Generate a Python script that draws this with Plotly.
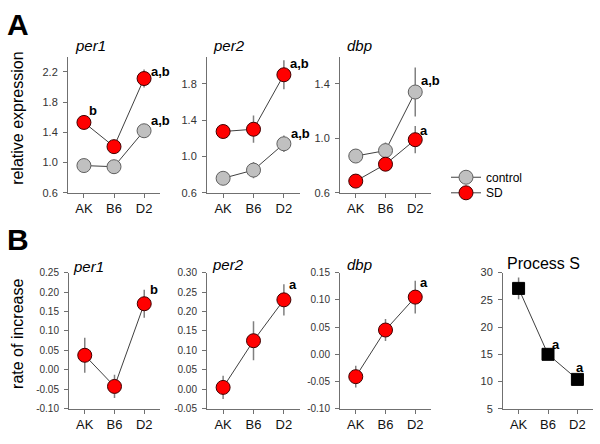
import plotly.graph_objects as go

strains = ["AK", "B6", "D2"]

# A: relative expression (control vs SD)
per1_ctrl = [0.96, 0.945, 1.42]
per1_ctrl_err = [0.03, 0.09, 0.04]
per1_sd = [1.53, 1.21, 2.11]
per1_sd_err = [0.09, 0.08, 0.12]

per2_ctrl = [0.76, 0.85, 1.14]
per2_ctrl_err = [0.03, 0.09, 0.09]
per2_sd = [1.275, 1.30, 1.90]
per2_sd_err = [0.03, 0.15, 0.16]

dbp_ctrl = [0.87, 0.91, 1.34]
dbp_ctrl_err = [0.05, 0.06, 0.18]
dbp_sd = [0.686, 0.81, 0.99]
dbp_sd_err = [0.04, 0.04, 0.10]

# B: rate of increase + Process S
rate_per1 = [0.0375, -0.0425, 0.17]
rate_per1_err = [0.045, 0.03, 0.036]
rate_per2 = [0.005, 0.125, 0.23]
rate_per2_err = [0.03, 0.05, 0.04]
rate_dbp = [-0.041, 0.0446, 0.105]
rate_dbp_err = [0.02, 0.02, 0.03]
process_s = [27.1, 15.0, 10.4]
process_s_err = [2.0, 1.0, 0.5]

FONT = "Arial, Liberation Sans, sans-serif"
W, H = 600, 444

RED = dict(color="#ff0000", size=14, line=dict(color="#400000", width=1))
GREY = dict(color="#c0c0c0", size=14, line=dict(color="#606060", width=1))
SQUARE = dict(color="#000000", size=12, symbol="square", line=dict(color="#000000", width=1))
LINE = dict(color="#404040", width=1)


def err(arr):
    return dict(type="data", array=arr, color="#808080", thickness=1.5, width=0)


def px_x(a, b):
    return [a / W, b / W]


def px_y(top, bottom):
    return [1 - bottom / H, 1 - top / H]


fig = go.Figure()


def add(n, y, e, marker, name=None, legend=None):
    ax = "" if n == 1 else str(n)
    fig.add_trace(go.Scatter(
        x=strains, y=y, error_y=err(e), mode="lines+markers",
        marker=marker, line=LINE, name=name,
        showlegend=legend is not None, legend=legend or "legend",
        xaxis="x" + ax, yaxis="y" + ax,
    ))


add(1, per1_ctrl, per1_ctrl_err, GREY, "control", "legend")
add(1, per1_sd, per1_sd_err, RED, "SD", "legend2")
add(2, per2_ctrl, per2_ctrl_err, GREY, "control")
add(2, per2_sd, per2_sd_err, RED, "SD")
add(3, dbp_ctrl, dbp_ctrl_err, GREY, "control")
add(3, dbp_sd, dbp_sd_err, RED, "SD")
add(4, rate_per1, rate_per1_err, RED)
add(5, rate_per2, rate_per2_err, RED)
add(6, rate_dbp, rate_dbp_err, RED)
add(7, process_s, process_s_err, SQUARE)

axis_style = dict(
    showline=True, linecolor="#707070", linewidth=1, showgrid=False,
    zeroline=False, ticks="outside", ticklen=4, tickcolor="#707070",
    mirror=False,
)

panels = [
    # (x px range, y px range, y range, tickvals, fmt, tick font size)
    ((68, 160), (52, 192), [0.6, 2.4], [0.6, 1.0, 1.4, 1.8, 2.2], "{:.1f}", 11),
    ((207, 300), (52, 192), [0.6, 2.1], [0.6, 1.0, 1.4, 1.8], "{:.1f}", 11),
    ((340, 431), (52, 192), [0.6, 1.6], [0.6, 1.0, 1.4], "{:.1f}", 11),
    ((69, 160), (274, 414), [-0.10, 0.25], [-0.10, -0.05, 0, 0.05, 0.10, 0.15, 0.20, 0.25], "{:.2f}", 10),
    ((207, 300), (274, 414), [-0.05, 0.30], [-0.05, 0, 0.05, 0.10, 0.15, 0.20, 0.25, 0.30], "{:.2f}", 10),
    ((340, 431), (274, 414), [-0.10, 0.15], [-0.10, -0.05, 0, 0.05, 0.10, 0.15], "{:.2f}", 10),
    ((503, 593), (274, 414), [5, 30], [5, 10, 15, 20, 25, 30], "{:.0f}", 11),
]

layout = {}
for i, (xr, yr, rng, tv, fmt, fs) in enumerate(panels, start=1):
    s = "" if i == 1 else str(i)
    layout["xaxis" + s] = dict(
        axis_style, domain=px_x(*xr), anchor="y" + s, range=[-0.53, 2.53],
        type="category", tickfont=dict(size=13, color="#111111", family=FONT),
    )
    layout["yaxis" + s] = dict(
        axis_style, domain=px_y(*yr), anchor="x" + s, range=rng,
        tickvals=tv, ticktext=[fmt.format(v) for v in tv], ticklabelstandoff=3,
        tickfont=dict(size=fs, color="#333333", family=FONT),
    )

annotations = []


def text(x, y, t, size, bold=False, italic=False, angle=0, xanchor="left"):
    if bold:
        t = "<b>" + t + "</b>"
    if italic:
        t = "<i>" + t + "</i>"
    annotations.append(dict(
        x=x / W, y=1 - y / H, xref="paper", yref="paper", text=t,
        showarrow=False, xanchor=xanchor, yanchor="middle", textangle=angle,
        font=dict(size=size, color="#000000", family=FONT),
    ))


text(5, 19, "A", 30, bold=True)
text(5, 240, "B", 30, bold=True)
text(18, 116, "relative expression", 16, angle=-90, xanchor="center")
text(18, 337, "rate of increase", 16, angle=-90, xanchor="center")
text(73, 41, "per1", 15, italic=True)
text(211, 41, "per2", 15, italic=True)
text(345, 41, "dbp", 15, italic=True)
text(71, 268, "per1", 15, italic=True)
text(210, 266, "per2", 15, italic=True)
text(345, 266, "dbp", 15, italic=True)
text(505, 265, "Process S", 16)


def sig(n, cat, y, t, dx, dy):
    s = "" if n == 1 else str(n)
    annotations.append(dict(
        x=cat, y=y, xref="x" + s, yref="y" + s, text="<b>" + t + "</b>",
        showarrow=False, xanchor="left", yanchor="middle", xshift=dx, yshift=dy,
        font=dict(size=13, color="#000000", family=FONT),
    ))


sig(1, "AK", per1_sd[0], "b", 3, 12)
sig(1, "D2", per1_sd[2], "a,b", 5, 7)
sig(1, "D2", per1_ctrl[2], "a,b", 5, 10)
sig(2, "D2", per2_sd[2], "a,b", 4, 11)
sig(2, "D2", per2_ctrl[2], "a,b", 5, 10)
sig(3, "D2", dbp_ctrl[2], "a,b", 4, 12)
sig(3, "D2", dbp_sd[2], "a", 3, 9)
sig(4, "D2", rate_per1[2], "b", 4, 14)
sig(5, "D2", rate_per2[2], "a", 3, 15)
sig(6, "D2", rate_dbp[2], "a", 3, 15)
sig(7, "B6", process_s[1], "a", 2, 10)
sig(7, "D2", process_s[2], "a", -3, 12)

legend_style = dict(
    x=446 / W, xanchor="left", yanchor="middle",
    font=dict(size=12, family=FONT), bgcolor="rgba(0,0,0,0)",
)

fig.update_layout(
    width=W, height=H, margin=dict(l=0, r=0, t=0, b=0),
    paper_bgcolor="white", plot_bgcolor="white",
    font=dict(family=FONT, color="#000000"),
    annotations=annotations,
    legend=dict(legend_style, y=1 - 176 / H),
    legend2=dict(legend_style, y=1 - 192 / H),
    **layout,
)

# the page's default body margin would push the figure 8px off
fig.write_html(
    "out.html",
    config={"displayModeBar": False},
    post_script="document.body.style.margin='0';",
)
